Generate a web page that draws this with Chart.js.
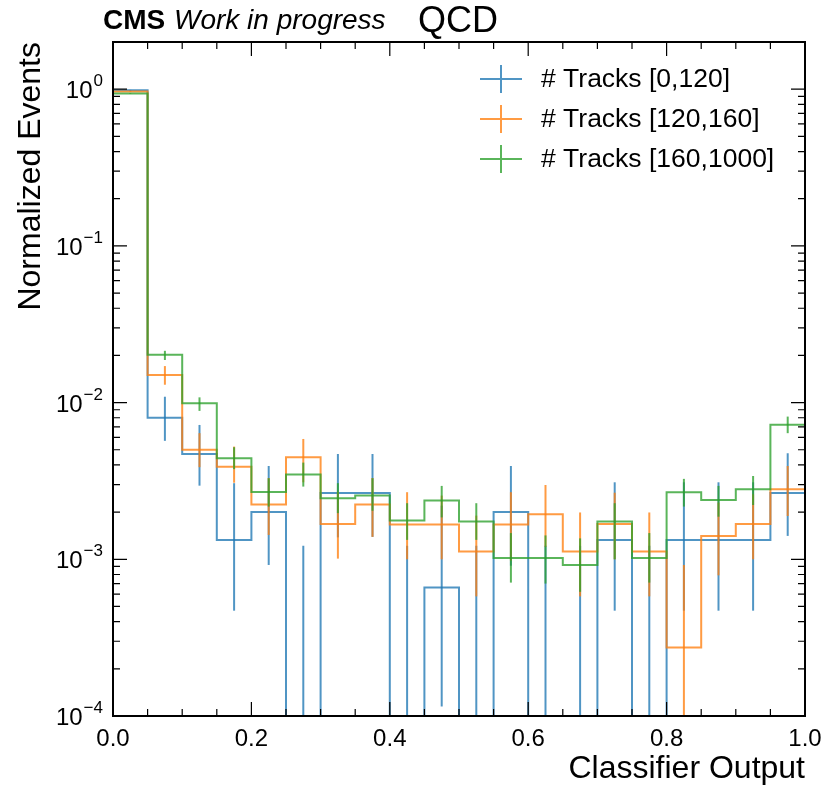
<!DOCTYPE html>
<html>
<head>
<meta charset="utf-8">
<script src="https://cdn.jsdelivr.net/npm/chart.js@4.4.1/dist/chart.umd.min.js"></script>
<style>
  html, body { margin: 0; padding: 0; background: #fff; }
</style>
</head>
<body>
<canvas id="chart" width="826" height="785"></canvas>
<script>
// bin edges of the classifier output histogram
const binEdges = [0, 0.05, 0.1, 0.15, 0.2, 0.25, 0.3, 0.35, 0.4, 0.45, 0.5,
                  0.55, 0.6, 0.65, 0.7, 0.75, 0.8, 0.85, 0.9, 0.95, 1.0];

const seriesNames = ["# Tracks [0,120]", "# Tracks [120,160]", "# Tracks [160,1000]"];
const seriesColors = ["rgba(31,119,180,0.78)", "rgba(255,127,14,0.78)", "rgba(44,160,44,0.78)"];

// normalized events per bin (0 = empty bin)
const lowTrackVals = [0.985, 0.0080, 0.0047, 0.00133, 0.0020, 0, 0.00265, 0.00265, 0, 0.00066,
                      0, 0.0020, 0, 0, 0.00133, 0, 0.00133, 0.00133, 0.00133, 0.00265];
const midTrackVals = [0.965, 0.0150, 0.0050, 0.0039, 0.00224, 0.00448, 0.00168, 0.00224, 0.00167, 0.00167,
                      0.00112, 0.00167, 0.00194, 0.00112, 0.00168, 0.00112, 0.000274, 0.00141, 0.00168, 0.0028];
const highTrackVals = [0.94, 0.0202, 0.0099, 0.00442, 0.00269, 0.00347, 0.00245, 0.00255, 0.00177, 0.00237,
                       0.00174, 0.00102, 0.00102, 0.00092, 0.00174, 0.00102, 0.00268, 0.00239, 0.0028, 0.00721];

// error bar ends (lower, upper)
const lowTrackLo = [0.98, 0.0057, 0.00295, 0.00047, 0.00092, 0, 0.00138, 0.00139, 0, 0.000115,
                    0, 0.00091, 0, 0, 0.00047, 0, 0.00047, 0.00047, 0.00047, 0.00141];
const lowTrackHi = [0.99, 0.0109, 0.0072, 0.00306, 0.00394, 0.00122, 0.0047, 0.0047, 0.00122, 0.0022,
                    0.00122, 0.00394, 0.00122, 0.00122, 0.0031, 0.00122, 0.0031, 0.0031, 0.0031, 0.00475];
const midTrackLo = [0.96, 0.0130, 0.00387, 0.00308, 0.00143, 0.0031, 0.00101, 0.00139, 0.001, 0.001,
                    0.00058, 0.00098, 0.0012, 0.00058, 0.001, 0.00058, 0.00005, 0.00079, 0.001, 0.00189];
const midTrackHi = [0.97, 0.0171, 0.00638, 0.00524, 0.0033, 0.00586, 0.0027, 0.0033, 0.00268, 0.00255,
                    0.0019, 0.00268, 0.00298, 0.00199, 0.00266, 0.00199, 0.00092, 0.0023, 0.0026, 0.00394];
const highTrackLo = [0.935, 0.0187, 0.00885, 0.00376, 0.00217, 0.00291, 0.00197, 0.00204, 0.00133, 0.00185,
                     0.00133, 0.00071, 0.0007, 0.00062, 0.001, 0.00071, 0.00217, 0.00187, 0.00222, 0.00638];
const highTrackHi = [0.945, 0.0214, 0.0108, 0.00519, 0.00329, 0.00414, 0.00306, 0.00329, 0.00228, 0.00294,
                     0.00228, 0.00147, 0.00142, 0.00136, 0.00228, 0.00147, 0.00326, 0.00294, 0.0034, 0.00814];

const xTicks = [0, 0.2, 0.4, 0.6, 0.8, 1.0];
const xMinorTicks = [0.05, 0.1, 0.15, 0.25, 0.3, 0.35, 0.45, 0.5, 0.55, 0.65, 0.7, 0.75, 0.85, 0.9, 0.95];
const yTicks = [1e-4, 1e-3, 1e-2, 1e-1, 1];
const yTickExp = ["\u22124", "\u22123", "\u22122", "\u22121", "0"];

const series = [
  { vals: lowTrackVals, lo: lowTrackLo, hi: lowTrackHi },
  { vals: midTrackVals, lo: midTrackLo, hi: midTrackHi },
  { vals: highTrackVals, lo: highTrackLo, hi: highTrackHi }
];

const FONT = "'Liberation Sans', Arial, sans-serif";
const Y_MIN = 1e-4, Y_MAX = 2;
const FLOOR = 1e-7; // empty bins drop below the axis

function stepPoints(vals) {
  const pts = vals.map((v, i) => ({ x: binEdges[i], y: v > 0 ? v : FLOOR }));
  pts.push({ x: binEdges[binEdges.length - 1], y: pts[pts.length - 1].y });
  return pts;
}

const furniture = {
  id: "furniture",
  afterDatasetDraw(chart, args) {
    const s = series[args.index];
    const { ctx, chartArea: a, scales: { x, y } } = chart;
    ctx.save();
    ctx.beginPath();
    ctx.rect(a.left, a.top, a.right - a.left, a.bottom - a.top);
    ctx.clip();
    ctx.strokeStyle = seriesColors[args.index];
    ctx.lineWidth = 2;
    for (let b = 0; b < s.vals.length; b++) {
      const cx = x.getPixelForValue((binEdges[b] + binEdges[b + 1]) / 2);
      const y0 = s.lo[b] > 0 ? y.getPixelForValue(s.lo[b]) : a.bottom + 2;
      const y1 = y.getPixelForValue(s.hi[b]);
      ctx.beginPath();
      ctx.moveTo(cx, y0);
      ctx.lineTo(cx, y1);
      ctx.stroke();
    }
    ctx.restore();
  },
  afterDraw(chart) {
    const { ctx, chartArea: a, scales: { x, y } } = chart;
    ctx.save();

    // inward ticks on all four sides
    ctx.strokeStyle = "#000";
    ctx.lineWidth = 1.2;
    const tick = (px, len, vertical) => {
      ctx.beginPath();
      if (vertical) {
        ctx.moveTo(px, a.bottom); ctx.lineTo(px, a.bottom - len);
        ctx.moveTo(px, a.top); ctx.lineTo(px, a.top + len);
      } else {
        ctx.moveTo(a.left, px); ctx.lineTo(a.left + len, px);
        ctx.moveTo(a.right, px); ctx.lineTo(a.right - len, px);
      }
      ctx.stroke();
    };
    xTicks.forEach(v => tick(x.getPixelForValue(v), 14, true));
    xMinorTicks.forEach(v => tick(x.getPixelForValue(v), 7, true));
    yTicks.forEach(v => tick(y.getPixelForValue(v), 14, false));
    for (let d = -4; d <= 0; d++) {
      for (let m = 2; m <= 9; m++) {
        const v = m * Math.pow(10, d);
        if (v < Y_MAX) tick(y.getPixelForValue(v), 7, false);
      }
    }

    // frame
    ctx.lineWidth = 2;
    ctx.strokeRect(a.left, a.top, a.right - a.left, a.bottom - a.top);

    // y tick labels 10^n
    ctx.fillStyle = "#000";
    ctx.textBaseline = "alphabetic";
    ctx.textAlign = "left";
    yTicks.forEach((v, i) => {
      const py = y.getPixelForValue(v);
      ctx.font = "17px " + FONT;
      const ew = ctx.measureText(yTickExp[i]).width;
      ctx.font = "24px " + FONT;
      const bw = ctx.measureText("10").width;
      const right = a.left - 10;
      ctx.fillText("10", right - ew - bw - 1, py + 9);
      ctx.font = "17px " + FONT;
      ctx.fillText(yTickExp[i], right - ew, py - 3);
    });

    // legend
    const lx = 480, ly = 79, lgap = 40;
    seriesNames.forEach((name, i) => {
      const cy = ly + i * lgap;
      ctx.strokeStyle = seriesColors[i];
      ctx.lineWidth = 2;
      ctx.beginPath();
      ctx.moveTo(lx, cy); ctx.lineTo(lx + 42, cy);
      ctx.moveTo(lx + 21, cy - 14); ctx.lineTo(lx + 21, cy + 14);
      ctx.stroke();
      ctx.fillStyle = "#000";
      ctx.font = "26.5px " + FONT;
      ctx.textBaseline = "middle";
      ctx.fillText(name, lx + 61, cy + 1);
    });

    // header
    ctx.textBaseline = "alphabetic";
    ctx.font = "bold 28px " + FONT;
    ctx.fillText("CMS", 103, 29);
    ctx.font = "italic 28px " + FONT;
    ctx.fillText("Work in progress", 174, 29);
    ctx.font = "36px " + FONT;
    ctx.fillText("QCD", 418, 32);

    ctx.restore();
  }
};

const ctx = document.getElementById("chart").getContext("2d");
const chart = new Chart(ctx, {
  type: "line",
  data: {
    datasets: series.map((s, i) => ({
      label: seriesNames[i],
      data: stepPoints(s.vals),
      borderColor: seriesColors[i],
      borderWidth: 2,
      pointRadius: 0,
      fill: false,
      stepped: "before",
      clip: 1,
      order: 3 - i
    }))
  },
  options: {
    responsive: false,
    animation: false,
    devicePixelRatio: 1,
    layout: { padding: { top: 42, right: 21, left: 0, bottom: 0 } },
    plugins: { legend: { display: false }, tooltip: { enabled: false } },
    scales: {
      x: {
        type: "linear",
        min: 0,
        max: 1,
        grid: { display: false, drawTicks: false },
        border: { display: false },
        afterBuildTicks: s => { s.ticks = xTicks.map(v => ({ value: v })); },
        afterFit: s => { s.height = 69; s.paddingLeft = 0; s.paddingRight = 0; },
        ticks: {
          padding: 9,
          color: "#000",
          maxRotation: 0,
          autoSkip: false,
          font: { family: FONT, size: 24 },
          callback: v => Number(v).toFixed(1)
        },
        title: {
          display: true,
          text: "Classifier Output",
          align: "end",
          color: "#000",
          padding: 0,
          font: { family: FONT, size: 32, lineHeight: 1 }
        }
      },
      y: {
        type: "logarithmic",
        min: Y_MIN,
        max: Y_MAX,
        grid: { display: false, drawTicks: false },
        border: { display: false },
        ticks: { display: false },
        afterFit: s => { s.width = 113; },
        title: {
          display: true,
          text: "Normalized Events",
          align: "end",
          color: "#000",
          padding: { top: 15, bottom: 0 },
          font: { family: FONT, size: 32, lineHeight: 1 }
        }
      }
    }
  },
  plugins: [furniture]
});
</script>
</body>
</html>
